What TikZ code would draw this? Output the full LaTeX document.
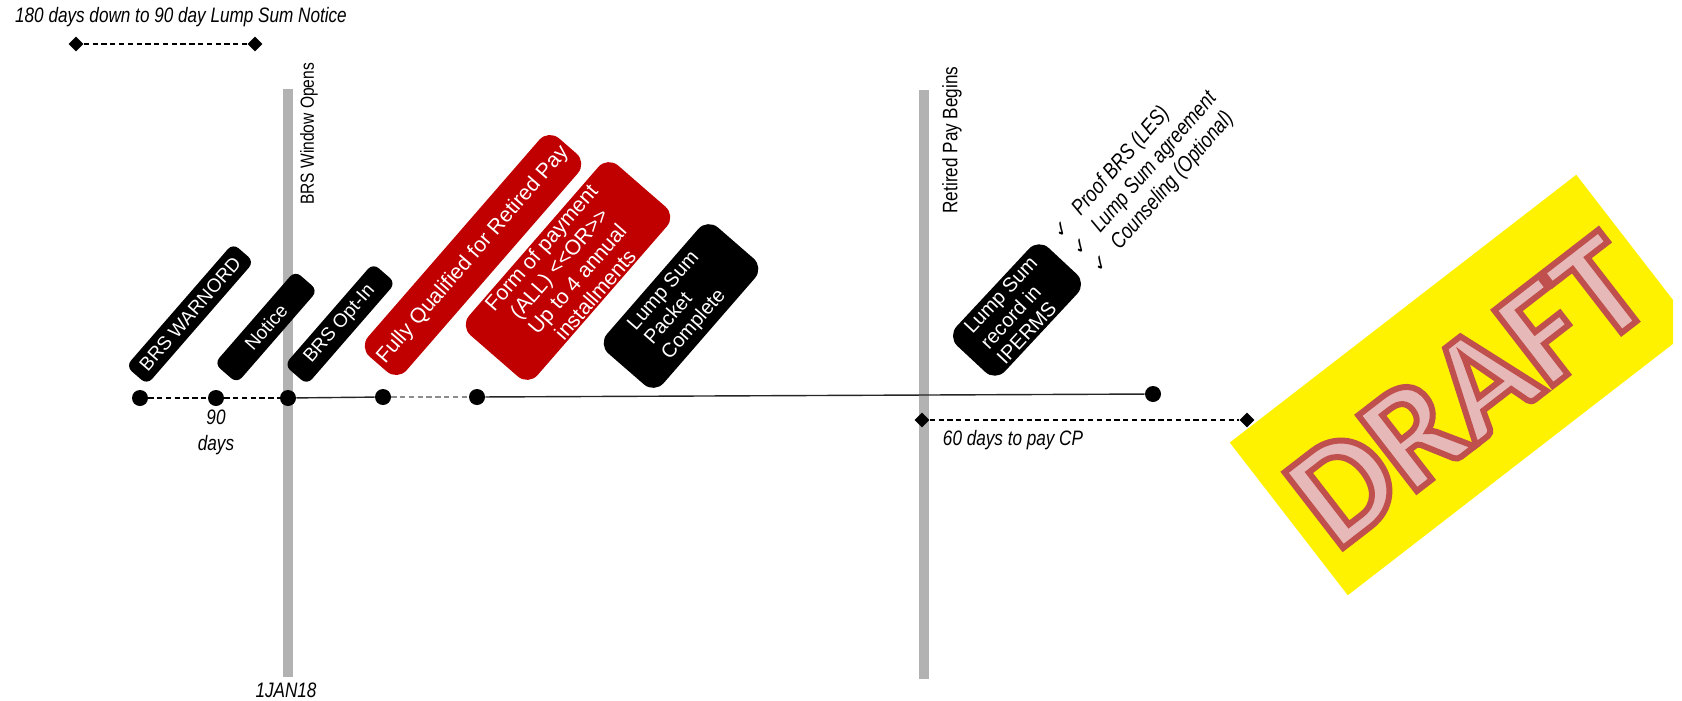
\documentclass[tikz,border=0pt]{standalone}
\usepackage{fontspec}
\setmainfont{Liberation Sans}
\newfontfamily\narrowfont{Liberation Sans}[FakeStretch=0.82]
\newfontfamily\chkfont{DejaVu Sans}
\newfontfamily\draftfont{Carlito}
\usetikzlibrary{shapes.geometric}
\definecolor{tagred}{HTML}{C00000}
\definecolor{bargray}{HTML}{B2B2B2}
\definecolor{draftfill}{HTML}{E6B9B8}
\definecolor{draftline}{HTML}{C0504D}
\newcommand{\chk}{{\chkfont\upshape\fontsize{11}{11}\selectfont ✓}\hspace{8pt}}
% stroke + fill text (render mode 2)
\newcommand{\outlined}[1]{\special{pdf:literal direct 2 Tr 3.4 w 0.753 0.314 0.302 RG}#1\special{pdf:literal direct 0 Tr}}

\begin{document}
\begin{tikzpicture}[x=0.02cm,y=-0.02cm,
  tag/.style={fill=black,text=white,rounded corners=0.15cm,align=center,inner sep=1pt,
    font=\fontsize{10.8}{12.8}\selectfont,rotate=#1},
  tag/.default=49,
  redtag/.style={tag,fill=tagred,rounded corners=0.28cm,font=\fontsize{12}{13.6}\selectfont},
  bigtag/.style={tag=#1,rounded corners=0.28cm,font=\fontsize{11.4}{12.8}\selectfont},
  bigtag/.default=49,
  dot/.style={circle,fill=black,inner sep=0pt,minimum size=0.32cm},
  dmd/.style={diamond,fill=black,inner sep=0pt,minimum size=0.3cm},
  dashln/.style={dash pattern=on 3pt off 2pt,line width=0.6pt},
  tline/.style={line width=0.8pt,black!85},
  bar/.style={line width=0.2cm,bargray},
  lbl/.style={font=\narrowfont\itshape\fontsize{11.9}{14.7}\selectfont,align=center,inner sep=0pt},
  vlbl/.style={rotate=90,inner sep=0pt},
  drafttext/.style={font=\draftfont\bfseries\fontsize{84}{86}\selectfont,rotate=37.7,inner sep=0pt}]
\useasboundingbox (0,0) rectangle (1682,700);

% window and retired pay bars
\coordinate (win top) at (288,89);
\coordinate (win bot) at (288,677);
\coordinate (pay top) at (924,90);
\coordinate (pay bot) at (924,679);
\draw[bar] (win top) -- (win bot);
\draw[bar] (pay top) -- (pay bot);
\node[vlbl,font=\narrowfont\fontsize{10.8}{12}\selectfont] (winlbl) at (309,134) {BRS Window Opens};
\node[vlbl,font=\narrowfont\fontsize{11.9}{14}\selectfont] (paylbl) at (952,140) {Retired Pay Begins};
\node[lbl] (datelbl) at (286,690) {1JAN18};

% notice span
\node[lbl] (noticelbl) at (181,17) {180 days down to 90 day Lump Sum Notice};
\node[dmd] (n1) at (76,44) {};
\node[dmd] (n2) at (255,44) {};
\draw[dashln] (n1) -- (n2);

% timeline
\node[dot] (t1) at (140,398) {};
\node[dot] (t2) at (216,398) {};
\node[dot] (t3) at (288,398) {};
\node[dot] (t4) at (383,397) {};
\node[dot] (t5) at (477,397) {};
\node[dot] (t6) at (1153,394) {};
\draw[dashln] (t1) -- (t2);
\draw[dashln] (t2) -- (t3);
\draw[tline] (t3) -- (t4);
\draw[dashln,black!45] (t4) -- (t5);
\draw[tline] (t5) -- (t6);
\node[lbl] (gaplbl) at (216,432) {90\\days};

% pay span
\node[dmd] (s1) at (922,420) {};
\node[dmd] (s2) at (1247,420) {};
\draw[dashln] (s1) -- (s2);
\node[lbl] (spanlbl) at (1013,440) {60 days to pay CP};

% milestones
\node[tag,minimum width=3.26cm,minimum height=0.56cm] (warnord) at (190,314) {BRS WARNORD};
\node[tag,minimum width=2.46cm,minimum height=0.6cm] (notice) at (266,327) {Notice};
\node[tag,minimum width=2.7cm,minimum height=0.6cm] (optin) at (340,324) {BRS Opt-In};
\node[redtag,minimum width=5.78cm,minimum height=1.02cm] (qualified) at (473,255) {Fully Qualified for Retired Pay};
\node[redtag,minimum width=4.5cm,minimum height=1.64cm] (payment) at (568,271) {Form of payment\\(ALL) <{}<OR>{}>\\Up to 4 annual\\installments};
\node[bigtag,align=left,minimum width=3.34cm,minimum height=1.5cm] (packet) at (681,306) {Lump Sum\\Packet\\Complete};
\node[bigtag=47,align=left,minimum width=2.68cm,minimum height=1.32cm] (iperms) at (1017,310) {Lump Sum\\record in\\IPERMS};
\node[font=\narrowfont\itshape\fontsize{12.5}{14.7}\selectfont,align=left,inner sep=0pt,rotate=49,anchor=west] (docs) at (1076,253)
  {\chk Proof BRS (LES)\\\chk Lump Sum agreement\\\chk Counseling (Optional)};

% draft stamp
\begin{scope}
\clip (0,0) rectangle (1673,700);
\node[fill=yellow,rotate=37.7,minimum width=8.76cm,minimum height=3.86cm] (draft) at (1462,385) {};
\end{scope}
\node[drafttext,text=draftfill] (drafttxt) at ([shift={(6,6)}]draft.center) {\outlined{DRAFT}};
\end{tikzpicture}
\end{document}
